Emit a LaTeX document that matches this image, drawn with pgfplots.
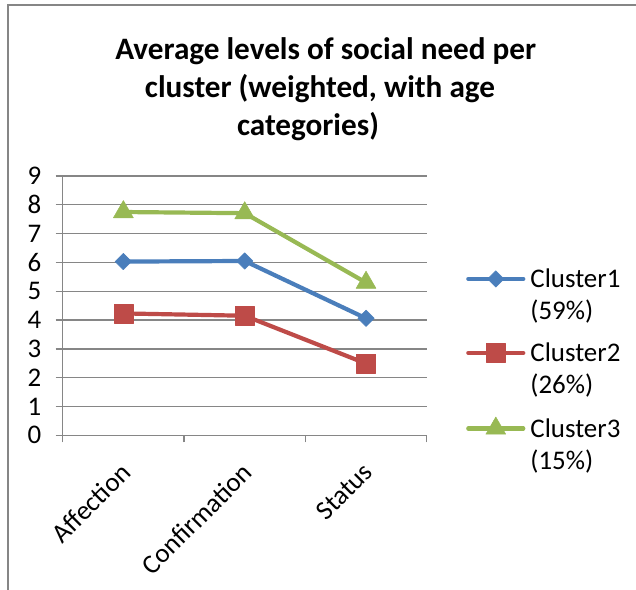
\documentclass[border=0pt]{standalone}
\usepackage{fontspec}
\setmainfont{Carlito}
\usepackage{pgfplots}
\pgfplotsset{compat=1.18}
\definecolor{c1}{HTML}{4A7EBB}
\definecolor{c2}{HTML}{BE4B48}
\definecolor{c3}{HTML}{98B954}
\definecolor{gridgray}{HTML}{868686}
\begin{document}
\begin{tikzpicture}
\path[use as bounding box] (0,0) rectangle (636bp,590bp);
\draw[gridgray, line width=2bp] (8bp,0) -- (8bp,584.5bp) -- (636bp,584.5bp);
\node[anchor=base, inner sep=0pt, font=\fontsize{31.3}{37}\selectfont\bfseries] at (325.8bp,530.5bp) {Average levels of social need per};
\node[anchor=base, inner sep=0pt, font=\fontsize{31.3}{37}\selectfont\bfseries] at (320bp,492.2bp) {cluster (weighted, with age};
\node[anchor=base, inner sep=0pt, font=\fontsize{31.3}{37}\selectfont\bfseries] at (308bp,454bp) {categories)};
\begin{axis}[
  at={(62.7bp,154.7bp)}, anchor=south west,
  scale only axis, width=364bp, height=259.3bp,
  xmin=-0.5, xmax=2.5, ymin=0, ymax=9,
  ytick={0,1,2,3,4,5,6,7,8,9},
  xtick={-0.5,0.5,1.5,2.5}, xticklabels={},
  extra x ticks={0,1,2},
  extra x tick labels={Affection,Confirmation,Status},
  extra x tick style={major tick length=0pt, tick label style={rotate=45, anchor=north east, xshift=-17.7bp, yshift=-12.1bp}},
  yticklabel style={xshift=-11bp},
  ymajorgrids, grid style={gridgray, line width=1.3bp},
  axis line style={gridgray, line width=1.3bp},
  tick style={gridgray, line width=1.3bp},
  major tick length=7bp, tick align=outside,
  axis x line*=bottom, axis y line*=left,
  tick label style={font=\fontsize{27}{32}\selectfont, text=black},
  /pgf/number format/assume math mode=true,
  clip=false,
  legend style={at={(rel axis cs:1.108,0.253)}, anchor=west, draw=none, fill=none,
    inner sep=0pt, row sep=22bp, column sep=5bp,
    font=\fontsize{27}{32}\selectfont,
    cells={anchor=west, align=left}, nodes={inner sep=0pt}},
  legend image code/.code={\draw[mark repeat=2,mark phase=2] plot coordinates {(0bp,16bp) (27.5bp,16bp) (55bp,16bp)};},
  every axis plot/.append style={line width=4.2bp, line cap=round, line join=round},
]
\addplot[c1, mark=square*, mark size=5.8bp, mark options={rotate=45, line width=0.5bp}] coordinates {(0,6.03) (1,6.05) (2,4.06)};
\addlegendentry{Cluster1\\(59\%)}
\addplot[c2, mark=square*, mark size=9.5bp, mark options={line width=0.5bp}] coordinates {(0,4.23) (1,4.15) (2,2.49)};
\addlegendentry{Cluster2\\(26\%)}
\addplot[c3, mark=triangle*, mark size=11.5bp, mark options={line width=0.5bp}] coordinates {(0,7.75) (1,7.71) (2,5.30)};
\addlegendentry{Cluster3\\(15\%)}
\end{axis}
\end{tikzpicture}
\end{document}
